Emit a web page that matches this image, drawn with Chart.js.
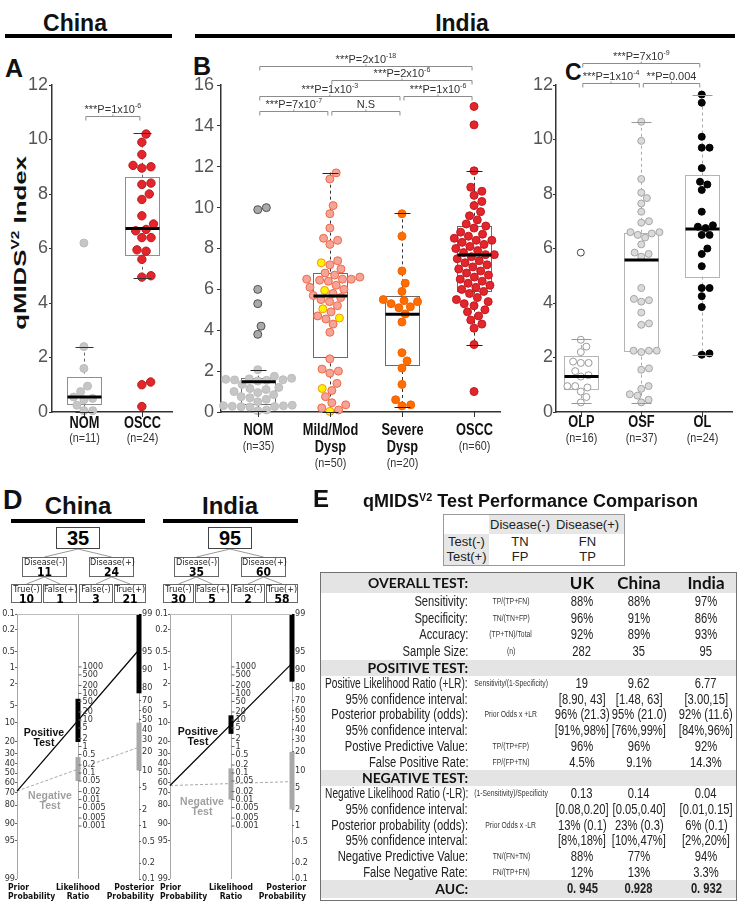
<!DOCTYPE html>
<html>
<head>
<meta charset="utf-8">
<title>qMIDS V2 index and test performance</title>
<script src="https://cdn.jsdelivr.net/npm/chart.js@4.4.1/dist/chart.umd.min.js"></script>
<style>
  body { margin: 0; background: #fff; }
  #page { position: relative; width: 747px; height: 920px; overflow: hidden; font-family: 'Liberation Sans', Arial, sans-serif; color: #111; }
  #page canvas { position: absolute; }
  .abs { position: absolute; white-space: nowrap; }
  .head { font-weight: bold; font-size: 23px; line-height: 23px; text-align: center; width: 120px; }
  .rule { position: absolute; background: #000; }
  .letter { font-weight: bold; font-size: 25px; line-height: 25px; }
  .cond { font-family: 'DejaVu Sans Condensed', 'DejaVu Sans', sans-serif; }
  .ytitle { font-weight: bold; font-size: 17px; line-height: 17px; transform: translate(-50%, -50%) rotate(-90deg) scaleX(1.5); }
  sup { font-size: 60%; line-height: 0; vertical-align: 0.6em; }
  .sq { display: inline-block; transform: scaleX(0.8); }
  .tbox { position: absolute; box-sizing: border-box; border: 1px solid #666; background: #fff; text-align: center;
          font-family: 'DejaVu Sans Condensed', 'DejaVu Sans', sans-serif; font-size: 9px; line-height: 9px; color: #222; }
  .tbox b { display: block; font-size: 12px; line-height: 10px; color: #000; }
  .nlab { font-weight: bold; font-size: 10.5px; line-height: 10px; text-align: center; width: 70px; }
  .blab { font-weight: bold; font-size: 8.5px; line-height: 8.5px; }
  #perf { position: absolute; left: 320px; top: 572px; width: 417px; height: 329px; box-sizing: border-box; border: 1.5px solid #707070; }
  #perf div { position: absolute; white-space: nowrap; }
  .sec { background: #e4e4e4; left: 0; right: 0; }
  .lbl { text-align: right; width: 267px; left: -120px; font-size: 14px; color: #222; }
  .frm { text-align: center; width: 140px; left: 120px; font-size: 8.5px; color: #333; }
  .val { text-align: center; width: 90px; font-size: 14px; color: #222; }
  .sechead { font-family: Lato, 'Liberation Sans', sans-serif; font-weight: bold; font-size: 14px; color: #111; }
  #conf { position: absolute; left: 443px; top: 514px; width: 182px; height: 52px; box-sizing: border-box; border: 1px solid #9a9a9a; font-size: 13px; color: #222; }
  #conf div { position: absolute; text-align: center; white-space: nowrap; }
</style>
</head>
<body>
<div id="page">
  <!-- panel headers, top half -->
  <div class="abs head" style="left:15px;top:12px">China</div>
  <div class="rule" style="left:5px;top:34px;width:167px;height:4px"></div>
  <div class="abs head" style="left:402px;top:12px">India</div>
  <div class="rule" style="left:195px;top:34px;width:540px;height:4px"></div>
  <div class="abs letter" style="left:5px;top:56px">A</div>
  <div class="abs letter" style="left:193px;top:54px">B</div>
  <div class="abs letter" style="left:565px;top:61px;font-size:23px;line-height:23px">C</div>
  <div class="abs ytitle" id="ytitle" style="left:20px;top:243px">qMIDS<sup>V2</sup> Index</div>

  <canvas id="chartA" width="178" height="430" style="left:0;top:40px"></canvas>
  <canvas id="chartB" width="325" height="430" style="left:180px;top:40px"></canvas>
  <canvas id="chartC" width="237" height="430" style="left:510px;top:40px"></canvas>

  <!-- panel D -->
  <div class="abs letter" style="left:3px;top:487px;font-size:27px;line-height:27px">D</div>
  <div class="abs head" style="left:18px;top:494px;font-size:24px">China</div>
  <div class="rule" style="left:11px;top:519px;width:134px;height:4px"></div>
  <div class="abs head" style="left:170px;top:494px;font-size:24px">India</div>
  <div class="rule" style="left:163px;top:519px;width:135px;height:4px"></div>
  <svg id="treeLines" class="abs" style="left:0;top:0" width="320" height="620"></svg>
  <div id="trees"></div>

  <canvas id="nomoChina" width="160" height="300" style="left:0;top:600px"></canvas>
  <canvas id="nomoIndia" width="160" height="300" style="left:153px;top:600px"></canvas>

  <div class="abs nlab" style="left:9px;top:727px">Positive<br>Test</div>
  <div class="abs nlab" style="left:15px;top:790px;color:#a0a0a0">Negative<br>Test</div>
  <div class="abs nlab" style="left:163px;top:726px">Positive<br>Test</div>
  <div class="abs nlab" style="left:167px;top:796px;color:#a0a0a0">Negative<br>Test</div>

  <div class="abs blab cond" style="left:8px;top:883px">Prior<br>Probability</div>
  <div class="abs blab cond" style="left:48px;top:883px;width:60px;text-align:center">Likelihood<br>Ratio</div>
  <div class="abs blab cond" style="left:94px;top:883px;width:60px;text-align:right">Posterior<br>Probability</div>
  <div class="abs blab cond" style="left:160px;top:883px">Prior<br>Probability</div>
  <div class="abs blab cond" style="left:201px;top:883px;width:60px;text-align:center">Likelihood<br>Ratio</div>
  <div class="abs blab cond" style="left:246px;top:883px;width:60px;text-align:right">Posterior<br>Probability</div>

  <!-- panel E -->
  <div class="abs letter" style="left:313px;top:487px;font-size:24px;line-height:24px">E</div>
  <div class="abs" style="left:363px;top:492px;font-weight:bold;font-size:18px;line-height:18px">qMIDS<sup>V2</sup> Test Performance Comparison</div>
  <div id="conf"></div>
  <div id="perf"></div>
</div>

<script>
// ---------- A: China ----------
const chinaCats = [['NOM'], ['OSCC']]
const chinaCounts = ['(n=11)', '(n=24)']
const chinaNom = [6.2, 2.4, 1.6, 0.95, 0.75, 0.55, 0.5, 0.45, 0.25, 0.05, 0.05]
const chinaOscc = [10.2, 9.9, 9.45, 9.05, 9.0, 8.95, 8.4, 8.35, 8.0, 7.8, 7.2, 6.9, 6.7, 6.65, 6.4, 6.4, 5.95, 5.9, 5.6, 5.0, 4.95, 1.1, 1.0, 0.2]
// [low whisker, Q1, median, Q3, high whisker]
const chinaBoxes = [[0, 0.3, 0.55, 1.3, 2.4], [4.93, 5.77, 6.73, 8.61, 10.25]]
const chinaTests = [{ from: 0, to: 1, y: 10.86, p: '***P=1x10', exp: '-6' }]

// ---------- B: India ----------
const indiaCats = [['NOM'], ['Mild/Mod', 'Dysp'], ['Severe', 'Dysp'], ['OSCC']]
const indiaCounts = ['(n=35)', '(n=50)', '(n=20)', '(n=60)']
const indiaNom = [10.0, 9.9, 6.0, 5.3, 4.2, 3.8, 2.07, 1.75, 1.65, 1.62, 1.6, 1.58, 1.57, 1.55, 1.52, 1.35, 1.2, 1.15, 1.1, 1.0, 0.95, 0.85, 0.75, 0.7, 0.62, 0.33, 0.31, 0.3, 0.28, 0.27, 0.26, 0.25, 0.1, 0.06, 0.5]
const indiaMildPink = [11.7, 11.4, 10.1, 9.7, 9.0, 8.5, 8.4, 8.2, 7.4, 7.2, 7.0, 6.8, 6.7, 6.6, 6.5, 6.5, 6.5, 6.45, 6.4, 6.2, 6.1, 6.0, 5.8, 5.7, 5.6, 5.5, 5.4, 5.2, 4.9, 4.7, 4.55, 4.3, 3.9, 2.6, 2.1, 2.0, 1.9, 1.4, 1.05, 0.75, 0.45, 0.35, 0.2, 0.1]
const indiaMildYellow = [7.3, 5.95, 5.05, 4.6, 1.15, 0.03]
const indiaSevere = [9.7, 8.6, 6.9, 6.3, 5.9, 5.5, 5.45, 5.4, 5.3, 5.15, 5.1, 4.8, 4.4, 2.9, 2.5, 2.15, 1.35, 0.6, 0.35, 0.3]
const indiaOscc = [14.95, 14.05, 11.8, 11.0, 10.8, 10.6, 10.3, 10.1, 9.8, 9.6, 9.4, 9.2, 9.1, 9.0, 8.8, 8.7, 8.6, 8.5, 8.4, 8.4, 8.3, 8.2, 8.1, 8.0, 7.9, 7.8, 7.7, 7.7, 7.6, 7.5, 7.4, 7.3, 7.2, 7.1, 7.0, 6.9, 6.8, 6.7, 6.6, 6.5, 6.4, 6.3, 6.2, 6.1, 6.0, 5.9, 5.8, 5.6, 5.5, 5.4, 5.3, 5.2, 5.0, 4.9, 4.7, 4.5, 4.3, 4.1, 3.3, 1.0]
const indiaBoxes = [[0.06, 0.39, 1.48, 1.65, 2.07], [0, 2.67, 5.67, 6.78, 11.71], [0.26, 2.3, 4.78, 5.67, 9.72], [3.28, 5.94, 7.68, 9.12, 11.8]]
const indiaTests = [
  { from: 0, to: 3, y: 16.93, p: '***P=2x10', exp: '-18' },
  { from: 1, to: 3, y: 16.24, p: '***P=2x10', exp: '-6' },
  { from: 0, to: 2, y: 15.48, p: '***P=1x10', exp: '-3' },
  { from: 2, to: 3, y: 15.48, p: '***P=1x10', exp: '-6' },
  { from: 0, to: 1, y: 14.73, p: '***P=7x10', exp: '-7' },
  { from: 1, to: 2, y: 14.73, p: 'N.S', exp: '' },
]

// ---------- C: India, other lesions ----------
const lesionCats = [['OLP'], ['OSF'], ['OL']]
const lesionCounts = ['(n=16)', '(n=37)', '(n=24)']
const lesionOlp = [5.85, 2.65, 2.4, 2.2, 1.85, 1.8, 1.8, 1.5, 1.35, 1.3, 0.95, 0.95, 0.9, 0.75, 0.55, 0.35]
const lesionOsf = [10.65, 9.95, 8.55, 8.05, 7.85, 7.65, 7.35, 7.0, 6.95, 6.6, 6.6, 6.55, 6.5, 6.4, 6.15, 5.85, 5.8, 5.7, 4.55, 4.15, 4.1, 4.05, 3.65, 3.25, 3.2, 2.25, 2.25, 2.25, 2.2, 1.6, 1.55, 0.95, 0.85, 0.65, 0.6, 0.45, 0.35]
const lesionOl = [11.65, 11.35, 10.1, 9.7, 9.7, 8.95, 8.45, 8.35, 8.15, 7.35, 6.85, 6.8, 6.75, 6.5, 6.5, 6.0, 5.8, 5.35, 4.55, 4.55, 4.25, 3.85, 2.15, 2.1]
const lesionBoxes = [[0.34, 0.83, 1.3, 2.05, 2.68], [0.34, 2.25, 5.58, 6.56, 10.65], [2.1, 4.97, 6.72, 8.7, 11.65]]
const lesionTests = [
  { from: 0, to: 2, y: 12.8, p: '***P=7x10', exp: '-9' },
  { from: 0, to: 1, y: 12.06, p: '***P=1x10', exp: '-4' },
  { from: 1, to: 2, y: 12.06, p: '**P=0.004', exp: '' },
]

// ---------- D: Fagan nomograms ----------
const nomoCountries = ['China', 'India']
const nomoTotals = [35, 95]
const nomoDiseaseNeg = [11, 35]
const nomoDiseasePos = [24, 60]
const nomoTrueNeg = [10, 30]
const nomoFalsePos = [1, 5]
const nomoFalseNeg = [3, 2]
const nomoTruePos = [21, 58]
const nomoPosLR = [9.62, 6.77]
const nomoNegLR = [0.14, 0.04]
const nomoPosLRci = [[1.48, 63], [3.0, 15]]
const nomoNegLRci = [[0.05, 0.4], [0.01, 0.15]]
const nomoPosPostCi = [[76, 99], [84, 99]]
const nomoNegPostCi = [[10, 47], [2, 20]]
const priorTicks = [0.1, 0.2, 0.5, 1, 2, 5, 10, 20, 30, 40, 50, 60, 70, 80, 90, 95, 99]
const postTicks = [99, 95, 90, 80, 70, 60, 50, 40, 30, 20, 10, 5, 2, 1, 0.5, 0.2, 0.1]
const lrTicks = [1000, 500, 200, 100, 50, 20, 10, 5, 2, 1, 0.5, 0.2, 0.1, 0.05, 0.02, 0.01, 0.005, 0.002, 0.001]
const lrTickLabels = ['1000', '500', '200', '100', '50', '20', '10', '5', '2', '1', '0.5', '0.2', '0.1', '0.05', '0.02', '0.01', '0.005', '0.005', '0.001']

// ---------- E: performance table ----------
const perfCountries = ['UK', 'China', 'India']
const overallRows = [
  ['Sensitivity:', 'TP/(TP+FN)', '88%', '88%', '97%'],
  ['Specificity:', 'TN/(TN+FP)', '96%', '91%', '86%'],
  ['Accuracy:', '(TP+TN)/Total', '92%', '89%', '93%'],
  ['Sample Size:', '(n)', '282', '35', '95'],
]
const positiveRows = [
  ['Positive Likelihood Ratio (+LR):', 'Sensitivity/(1-Specificity)', '19', '9.62', '6.77'],
  ['95% confidence interval:', '', '[8.90, 43]', '[1.48, 63]', '[3.00,15]'],
  ['Posterior probability (odds):', 'Prior Odds x +LR', '96% (21.3)', '95% (21.0)', '92% (11.6)'],
  ['95% confidence interval:', '', '[91%,98%]', '[76%,99%]', '[84%,96%]'],
  ['Postive Predictive Value:', 'TP/(TP+FP)', '96%', '96%', '92%'],
  ['False Positive Rate:', 'FP/(FP+TN)', '4.5%', '9.1%', '14.3%'],
]
const negativeRows = [
  ['Negative Likelihood Ratio (-LR):', '(1-Sensitivity)/Specificity', '0.13', '0.14', '0.04'],
  ['95% confidence interval:', '', '[0.08,0.20]', '[0.05,0.40]', '[0.01,0.15]'],
  ['Posterior probability (odds):', 'Prior Odds x -LR', '13% (0.1)', '23% (0.3)', '6% (0.1)'],
  ['95% confidence interval:', '', '[8%,18%]', '[10%,47%]', '[2%,20%]'],
  ['Negative Predictive Value:', 'TN/(FN+TN)', '88%', '77%', '94%'],
  ['False Negative Rate:', 'FN/(TP+FN)', '12%', '13%', '3.3%'],
]
const aucValues = ['0. 945', '0.928', '0. 932']

const SANS = "'Liberation Sans', Arial, sans-serif"

// squeeze text horizontally, the figure uses a narrow face
const narrowText = (ctx, txt, x, y, sx) => {
  ctx.save()
  ctx.translate(x, y)
  ctx.scale(sx, 1)
  ctx.fillText(txt, 0, 0)
  ctx.restore()
}

// beeswarm: place each point as close to the category centre as it can go
const swarm = (values, yScale, r) => {
  const placed = []
  const out = []
  const d2 = 4 * r * r
  const order = values.map((v, i) => i).sort((a, b) => values[a] - values[b])
  order.forEach((i) => {
    const py = yScale.getPixelForValue(values[i])
    const near = placed.filter((p) => Math.abs(p.py - py) < 2 * r)
    const cands = [0]
    near.forEach((p) => {
      const w = Math.sqrt(d2 - (p.py - py) ** 2)
      cands.push(p.px + w + 0.01, p.px - w - 0.01)
    })
    cands.sort((a, b) => Math.abs(a) - Math.abs(b))
    const px = cands.find((c) => near.every((p) => (p.px - c) ** 2 + (p.py - py) ** 2 >= d2 - 0.1))
    placed.push({ px, py })
    out[i] = px
  })
  return out
}

const boxPlugin = (p) => ({
  id: 'boxes',
  beforeDatasetsDraw(chart) {
    const { ctx, scales: { x, y } } = chart
    ctx.save()
    p.stats.forEach(([lo, q1, med, q3, hi], i) => {
      const cx = Math.round(x.getPixelForValue(i)) + 0.5
      ctx.lineWidth = 1
      ctx.strokeStyle = p.whisker
      ctx.setLineDash([3, 3])
      ctx.beginPath()
      ctx.moveTo(cx, y.getPixelForValue(hi))
      ctx.lineTo(cx, y.getPixelForValue(q3))
      ctx.moveTo(cx, y.getPixelForValue(q1))
      ctx.lineTo(cx, y.getPixelForValue(lo))
      ctx.stroke()
      ctx.setLineDash([])
      ctx.strokeStyle = p.boxColor
      const top = Math.round(y.getPixelForValue(q3)) + 0.5
      const bot = Math.round(y.getPixelForValue(q1)) + 0.5
      ctx.strokeRect(cx - p.half, top, 2 * p.half, bot - top)
    })
    ctx.restore()
  },
  afterDatasetsDraw(chart) {
    const { ctx, scales: { x, y } } = chart
    ctx.save()
    p.stats.forEach(([lo, q1, med, q3, hi], i) => {
      const cx = Math.round(x.getPixelForValue(i)) + 0.5
      ctx.strokeStyle = p.capColor
      ctx.lineWidth = 1
      ctx.beginPath()
      ;[lo, hi].forEach((v) => {
        const yy = Math.round(y.getPixelForValue(v)) + 0.5
        ctx.moveTo(cx - p.cap, yy)
        ctx.lineTo(cx + p.cap, yy)
      })
      ctx.stroke()
      ctx.strokeStyle = '#000'
      ctx.lineWidth = 3
      ctx.beginPath()
      ctx.moveTo(cx - p.half, y.getPixelForValue(med))
      ctx.lineTo(cx + p.half, y.getPixelForValue(med))
      ctx.stroke()
    })
    ctx.restore()
  },
  afterDraw(chart) {
    const { ctx, chartArea, scales: { x, y } } = chart
    ctx.save()
    // category ticks and labels
    p.cats.forEach((lines, i) => {
      const cx = Math.round(x.getPixelForValue(i)) + 0.5
      ctx.strokeStyle = '#333'
      ctx.lineWidth = 1
      ctx.beginPath()
      ctx.moveTo(cx, chartArea.bottom)
      ctx.lineTo(cx, chartArea.bottom + 5)
      ctx.stroke()
      ctx.textAlign = 'center'
      ctx.textBaseline = 'middle'
      ctx.fillStyle = '#111'
      ctx.font = 'bold 16px ' + SANS
      lines.forEach((t, j) => narrowText(ctx, t, cx, chartArea.bottom + p.labelTop + j * p.lineGap, 0.8))
      ctx.fillStyle = '#333'
      ctx.font = '13.5px ' + SANS
      narrowText(ctx, p.counts[i], cx, chartArea.bottom + p.labelTop + lines.length * p.lineGap - 2, 0.8)
    })
    // significance brackets
    p.tests.forEach((t) => {
      const x1 = x.getPixelForValue(t.from) + 2
      const x2 = x.getPixelForValue(t.to) - 2
      const by = Math.round(y.getPixelForValue(t.y)) + 0.5
      const mid = (x1 + x2) / 2
      ctx.strokeStyle = '#8c8c8c'
      ctx.lineWidth = 1
      ctx.beginPath()
      ctx.moveTo(x1, by + 4)
      ctx.lineTo(x1, by)
      ctx.lineTo(x2, by)
      ctx.lineTo(x2, by + 4)
      ctx.moveTo(mid, by)
      ctx.lineTo(mid, by - 2)
      ctx.stroke()
      const main = '11px ' + SANS
      const small = '7px ' + SANS
      ctx.font = main
      const w1 = ctx.measureText(t.p).width
      ctx.font = small
      const w2 = t.exp ? ctx.measureText(t.exp).width : 0
      const sx = mid - (w1 + w2) / 2
      ctx.fillStyle = '#333'
      ctx.textAlign = 'left'
      ctx.textBaseline = 'alphabetic'
      ctx.font = main
      ctx.fillText(t.p, sx, by - 4)
      if (t.exp) {
        ctx.font = small
        ctx.fillText(t.exp, sx + w1, by - 9)
      }
    })
    ctx.restore()
  },
})

const makePanel = (p) => {
  const chart = new Chart(document.getElementById(p.canvas), {
    type: 'scatter',
    data: {
      datasets: p.groups.map((g) => ({
        data: [],
        pointRadius: g.r,
        pointHoverRadius: g.r,
        pointBorderWidth: 1,
        pointBackgroundColor: g.fill,
        pointBorderColor: g.stroke,
        clip: false,
      })),
    },
    options: {
      responsive: false,
      animation: false,
      devicePixelRatio: 1,
      events: [],
      layout: { padding: { top: 45, bottom: 58, left: 0, right: p.padRight } },
      scales: {
        x: {
          type: 'linear',
          min: p.xMin,
          max: p.xMax,
          afterFit: (s) => { s.height = 0 },
          ticks: { display: false },
          grid: { display: false },
          border: { color: '#333', width: 1.5 },
        },
        y: {
          min: 0,
          max: p.yMax,
          afterFit: (s) => { s.width = p.axisWidth },
          ticks: { stepSize: 2, color: '#555', padding: p.tickPad, font: { family: SANS, size: 18 } },
          grid: { drawOnChartArea: false, tickLength: p.tickLen, color: '#333' },
          border: { color: '#333', width: 1.5 },
        },
      },
      plugins: { legend: { display: false }, tooltip: { enabled: false } },
    },
    plugins: [boxPlugin(p)],
  })
  const x = chart.scales.x
  const unit = x.getPixelForValue(1) - x.getPixelForValue(0)
  p.cats.forEach((_, c) => {
    const members = []
    p.groups.forEach((g, gi) => {
      if (g.cat === c) g.values.forEach((v) => members.push({ v, gi, r: g.r }))
    })
    if (!members.length) return
    const offs = swarm(members.map((m) => m.v), chart.scales.y, members[0].r + 0.4)
    members.forEach((m, k) => chart.data.datasets[m.gi].data.push({ x: c + offs[k] / unit, y: m.v }))
  })
  chart.update()
}

makePanel({
  canvas: 'chartA', xMin: -0.55, xMax: 1.52, yMax: 12, axisWidth: 52, padRight: 6, tickLen: 3, tickPad: 1,
  cats: chinaCats, counts: chinaCounts, labelTop: 12, lineGap: 16,
  stats: chinaBoxes, tests: chinaTests, half: 17, cap: 9, boxColor: '#8f8f8f', whisker: '#666', capColor: '#333',
  groups: [
    { cat: 0, values: chinaNom, r: 4, fill: '#c6c6c6', stroke: '#bcbcbc' },
    { cat: 1, values: chinaOscc, r: 4.2, fill: '#e4252b', stroke: '#b71c20' },
  ],
})

const nomOutlier = indiaBoxes[0][4]
makePanel({
  canvas: 'chartB', xMin: -0.51, xMax: 3.36, yMax: 16, axisWidth: 41, padRight: 5, tickLen: 4, tickPad: 3,
  cats: indiaCats, counts: indiaCounts, labelTop: 19, lineGap: 17,
  stats: indiaBoxes, tests: indiaTests, half: 17, cap: 8, boxColor: '#6b6b6b', whisker: '#333', capColor: '#222',
  groups: [
    { cat: 0, values: indiaNom, r: 4,
      fill: (c) => (c.raw && c.raw.y > nomOutlier ? '#a9a9a9' : '#c6c6c6'),
      stroke: (c) => (c.raw && c.raw.y > nomOutlier ? '#505050' : '#bdbdbd') },
    { cat: 1, values: indiaMildPink, r: 4, fill: '#f5a49a', stroke: '#ee6a45' },
    { cat: 1, values: indiaMildYellow, r: 4, fill: '#fff000', stroke: '#f0961a' },
    { cat: 2, values: indiaSevere, r: 4, fill: '#ff6d00', stroke: '#f26300' },
    { cat: 3, values: indiaOscc, r: 4, fill: '#e3252c', stroke: '#c01a21' },
  ],
})

const olpOutlier = lesionBoxes[0][4]
makePanel({
  canvas: 'chartC', xMin: -0.41, xMax: 2.5, yMax: 12, axisWidth: 46, padRight: 15, tickLen: 3, tickPad: 0,
  cats: lesionCats, counts: lesionCounts, labelTop: 11, lineGap: 17,
  stats: lesionBoxes, tests: lesionTests, half: 17, cap: 10, boxColor: '#b5b5b5', whisker: '#aaa', capColor: '#999',
  groups: [
    { cat: 0, values: lesionOlp, r: 3.5, fill: '#ffffff',
      stroke: (c) => (c.raw && c.raw.y > olpOutlier ? '#444' : '#9a9a9a') },
    { cat: 1, values: lesionOsf, r: 3.5, fill: '#dadada', stroke: '#a5a5a5' },
    { cat: 2, values: lesionOl, r: 3.5, fill: '#050505', stroke: '#000' },
  ],
})

// ---------- nomograms ----------
const logit = (p) => Math.log(p / (1 - p))
const topT = -logit(0.001)
const bottomT = -logit(0.99)
const postShift = topT + bottomT
const priorT = (pct) => -logit(pct / 100)
const postT = (pct) => logit(pct / 100) + postShift
const lrT = (lr) => (Math.log(lr) + postShift) / 2
const NOMO_FONT = { family: "'DejaVu Sans Condensed', 'DejaVu Sans', sans-serif", size: 9 }

const nomoPlugin = {
  id: 'nomoAxis',
  afterDraw(chart) {
    const { ctx, chartArea, scales: { x, y } } = chart
    ctx.save()
    ctx.strokeStyle = '#bdbdbd'
    ctx.lineWidth = 1
    ctx.beginPath()
    ctx.moveTo(chartArea.left, chartArea.top + 0.5)
    ctx.lineTo(chartArea.right, chartArea.top + 0.5)
    ctx.stroke()
    const mx = Math.round(x.getPixelForValue(1)) + 0.5
    ctx.font = `${NOMO_FONT.size}px ${NOMO_FONT.family}`
    ctx.fillStyle = '#333'
    ctx.textAlign = 'left'
    ctx.textBaseline = 'middle'
    ctx.strokeStyle = '#666'
    lrTicks.forEach((v, i) => {
      const yy = y.getPixelForValue(lrT(v))
      ctx.beginPath()
      ctx.moveTo(mx, yy)
      ctx.lineTo(mx + 3, yy)
      ctx.stroke()
      ctx.fillText(lrTickLabels[i], mx + 4, yy)
    })
    ctx.restore()
  },
}

const makeNomogram = (canvasId, i) => {
  const lp = logit(nomoDiseasePos[i] / nomoTotals[i])
  const bar = (vals, xPos, tf, color) => ({
    data: vals.map((v) => ({ x: xPos, y: tf(v) })),
    borderColor: color,
    borderWidth: 5,
  })
  new Chart(document.getElementById(canvasId), {
    type: 'scatter',
    data: {
      datasets: [
        bar(nomoPosLRci[i], 1, lrT, '#000'),
        bar(nomoPosPostCi[i], 2, postT, '#000'),
        { data: [{ x: 0, y: -lp }, { x: 2, y: lp + Math.log(nomoPosLR[i]) + postShift }], borderColor: '#000', borderWidth: 1.2 },
        bar(nomoNegLRci[i], 1, lrT, '#a8a8a8'),
        bar(nomoNegPostCi[i], 2, postT, '#a8a8a8'),
        { data: [{ x: 0, y: -lp }, { x: 2, y: lp + Math.log(nomoNegLR[i]) + postShift }], borderColor: '#a8a8a8', borderWidth: 1, borderDash: [3, 2] },
      ].map((d) => ({ ...d, showLine: true, pointRadius: 0, clip: false })),
    },
    options: {
      responsive: false,
      animation: false,
      devicePixelRatio: 1,
      events: [],
      layout: { padding: { top: 14, bottom: 21, left: 0, right: 0 } },
      scales: {
        x: {
          type: 'linear', min: 0, max: 2,
          afterBuildTicks: (s) => { s.ticks = [0, 1, 2].map((v) => ({ value: v })) },
          afterFit: (s) => { s.height = 0 },
          ticks: { display: false },
          grid: { color: '#a8a8a8', drawTicks: false },
          border: { display: false },
        },
        y: {
          position: 'left', min: bottomT, max: topT,
          afterBuildTicks: (s) => { s.ticks = priorTicks.map((v) => ({ value: priorT(v) })) },
          afterFit: (s) => { s.width = 17 },
          ticks: { autoSkip: false, callback: (v, k) => String(priorTicks[k]), color: '#333', padding: 0, font: NOMO_FONT },
          grid: { drawOnChartArea: false, tickLength: 2, color: '#666' },
          border: { display: false },
        },
        y2: {
          position: 'right', min: bottomT, max: topT,
          afterBuildTicks: (s) => { s.ticks = postTicks.map((v) => ({ value: postT(v) })) },
          afterFit: (s) => { s.width = 21 },
          ticks: { autoSkip: false, callback: (v, k) => String(postTicks[k]), color: '#333', padding: 1, font: NOMO_FONT },
          grid: { drawOnChartArea: false, tickLength: 2, color: '#666' },
          border: { display: false },
        },
      },
      plugins: { legend: { display: false }, tooltip: { enabled: false } },
    },
    plugins: [nomoPlugin],
  })
}

makeNomogram('nomoChina', 0)
makeNomogram('nomoIndia', 1)

// y title is stretched along its length in the original
const ytitle = document.getElementById('ytitle')
ytitle.style.transform = `translate(-50%, -50%) rotate(-90deg) scaleX(${173 / ytitle.offsetWidth})`

// 2x2 trees above the nomograms
const trees = document.getElementById('trees')
const svg = document.getElementById('treeLines')
const addBox = (l, t, w, h, html, extra = '') => {
  const d = document.createElement('div')
  d.className = 'tbox'
  d.style.cssText = `left:${l}px;top:${t}px;width:${w}px;height:${h}px;${extra}`
  d.innerHTML = html
  trees.appendChild(d)
}
const addLine = (x1, y1, x2, y2) => {
  const ln = document.createElementNS('http://www.w3.org/2000/svg', 'line')
  ln.setAttribute('x1', x1); ln.setAttribute('y1', y1)
  ln.setAttribute('x2', x2); ln.setAttribute('y2', y2)
  ln.setAttribute('stroke', '#999'); ln.setAttribute('stroke-width', '1')
  svg.appendChild(ln)
}
nomoCountries.forEach((_, i) => {
  const ox = i * 152
  addLine(78 + ox, 549, 44.5 + ox, 557)
  addLine(78 + ox, 549, 111.5 + ox, 557)
  addLine(44.5 + ox, 577, 26.5 + ox, 584)
  addLine(44.5 + ox, 577, 60 + ox, 584)
  addLine(111.5 + ox, 577, 96 + ox, 584)
  addLine(111.5 + ox, 577, 130 + ox, 584)
  addBox(56 + ox, 527, 44, 22, `<b style="font-size:20px;line-height:20px;font-family:${SANS}">${nomoTotals[i]}</b>`, 'border:1.5px solid #444')
  addBox(22 + ox, 557, 45, 20, `Disease(-)<b>${nomoDiseaseNeg[i]}</b>`)
  addBox(89 + ox, 557, 45, 20, `Disease(+)<b>${nomoDiseasePos[i]}</b>`)
  addBox(11 + ox, 584, 31, 19, `True(-)<b>${nomoTrueNeg[i]}</b>`)
  addBox(43 + ox, 584, 34, 19, `False(+)<b>${nomoFalsePos[i]}</b>`)
  addBox(79 + ox, 584, 34, 19, `False(-)<b>${nomoFalseNeg[i]}</b>`)
  addBox(114 + ox, 584, 32, 19, `True(+)<b>${nomoTruePos[i]}</b>`)
})

// ---------- panel E tables ----------
const conf = document.getElementById('conf')
const confCells = [
  [0, 0, 45, 19, '', false], [45, 0, 62, 19, 'Disease(-)', true], [107, 0, 73, 19, 'Disease(+)', true],
  [0, 19, 45, 15, 'Test(-)', true], [45, 19, 62, 15, 'TN', false], [107, 19, 73, 15, 'FN', false],
  [0, 34, 45, 16, 'Test(+)', true], [45, 34, 62, 16, 'FP', false], [107, 34, 73, 16, 'TP', false],
]
confCells.forEach(([l, t, w, h, txt, shade]) => {
  const d = document.createElement('div')
  d.style.cssText = `left:${l}px;top:${t}px;width:${w}px;height:${h}px;line-height:${h}px;${shade ? 'background:#e6e6e6;' : ''}`
  d.textContent = txt
  conf.appendChild(d)
})

const perf = document.getElementById('perf')
const valueCentres = [261, 318, 385]
const addRow = (top, h, row, opts = {}) => {
  const mk = (cls, style, txt, origin, maxW) => {
    const d = document.createElement('div')
    d.className = cls
    d.style.cssText = `top:${top}px;height:${h}px;line-height:${h}px;` + style
    if (origin) {
      const s = document.createElement('span')
      s.className = 'sq'
      s.style.transformOrigin = origin
      s.textContent = txt
      d.appendChild(s)
      perf.appendChild(d)
      if (maxW) s.style.transform = `scaleX(${Math.min(0.8, maxW / s.offsetWidth)})`
    } else {
      d.textContent = txt
      perf.appendChild(d)
    }
  }
  if (opts.shade) mk('sec', '', '')
  if (opts.head) mk('lbl sechead', '', row[0])
  else mk('lbl', '', row[0], '100% 50%', 143)
  if (row[1]) mk('frm', '', row[1], '50% 50%')
  row.slice(2).forEach((v, k) => {
    const style = `left:${valueCentres[k] - 45}px;`
    if (opts.countries) mk('val sechead', style + 'font-size:17px;', v)
    else mk('val', style + (opts.bold ? 'font-weight:bold;' : ''), v, '50% 50%')
  })
}
let y = 0
addRow(y, 20, ['OVERALL TEST:', '', ...perfCountries], { shade: true, head: true, countries: true })
y = 20
overallRows.forEach((r) => { addRow(y, 16.7, r); y += 16.7 })
addRow(y, 16.2, ['POSITIVE TEST:', ''], { shade: true, head: true }); y += 16.2
positiveRows.forEach((r) => { addRow(y, 15.7, r); y += 15.7 })
addRow(y, 16, ['NEGATIVE TEST:', ''], { shade: true, head: true }); y += 16
negativeRows.forEach((r) => { addRow(y, 15.7, r); y += 15.7 })
addRow(y, 17.5, ['AUC:', '', ...aucValues], { shade: true, head: true, bold: true })
</script>
</body>
</html>
